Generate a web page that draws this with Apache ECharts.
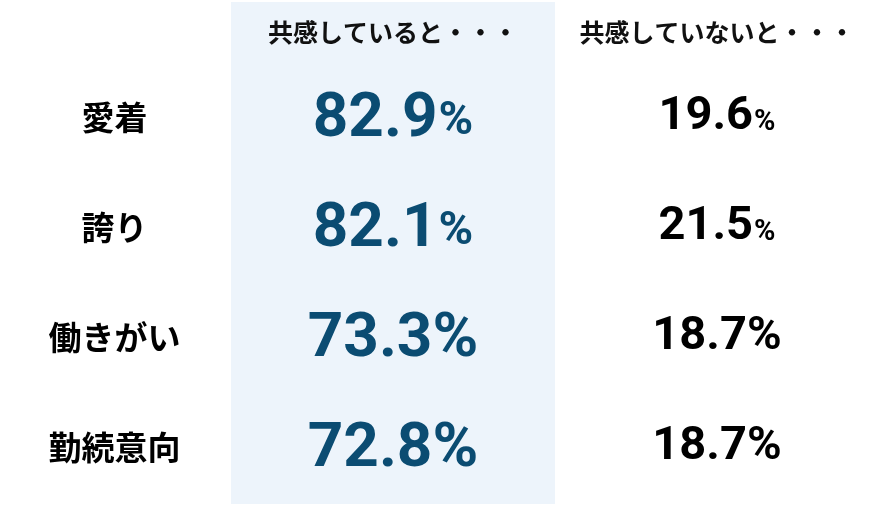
<!DOCTYPE html>
<html><head><meta charset="utf-8">
<script src="https://cdn.jsdelivr.net/npm/echarts@6/dist/echarts.min.js"></script>
<style>html,body{margin:0;padding:0;background:#fff}#c{width:883px;height:523px}</style>
</head><body><div id="c"></div>
<script>
const columns = ['共感していると・・・', '共感していないと・・・'];
const rows = ['愛着', '誇り', '働きがい', '勤続意向'];
const empathize = [82.9, 82.1, 73.3, 72.8];
const notEmpathize = [19.6, 21.5, 18.7, 18.7];

const chart = echarts.init(document.getElementById('c'), null, {renderer: 'canvas'});
const numFont = 'Roboto, "Liberation Sans", sans-serif';
const jpFont = '"Noto Sans CJK JP", "Noto Sans", sans-serif';

function makeSeries(name, values, col, color, big, small, smallPad, dy) {
  const base = {fontFamily: numFont, fontWeight: 'bold', color: color, verticalAlign: 'bottom', lineHeight: big};
  return {
    name: name, type: 'scatter', symbolSize: 1, xAxisIndex: 0, yAxisIndex: 0,
    itemStyle: {color: 'rgba(0,0,0,0)'}, silent: true,
    data: values.map((v, i) => [columns[col], rows[i], v]),
    label: {
      show: true, position: 'inside', opacity: 1, offset: [0, dy],
      formatter: p => '{n|' + p.value[2].toFixed(1) + '}{' + (p.dataIndex < 2 ? 's' : 'n') + '|%}',
      rich: {
        n: Object.assign({}, base, {fontSize: big}),
        s: Object.assign({}, base, {fontSize: small, padding: [0, 0, smallPad, 1]})
      }
    }
  };
}

chart.setOption({
  animation: false,
  backgroundColor: '#fff',
  grid: [
    {left: 231, right: 4, top: 62.5, bottom: 20.5, show: false},
    {left: 231, width: 324, top: 2, bottom: 19, show: true, backgroundColor: '#EDF4FB', borderWidth: 0}
  ],
  xAxis: [
    {type: 'category', gridIndex: 0, data: columns, position: 'top',
     axisLine: {show: false}, axisTick: {show: false}, splitLine: {show: false},
     axisLabel: {interval: 0, hideOverlap: false, fontFamily: jpFont, fontWeight: 'bold', fontSize: 25, color: '#111', margin: 17}},
    {type: 'value', gridIndex: 1, show: false}
  ],
  yAxis: [
    {type: 'category', gridIndex: 0, data: rows, inverse: true,
     axisLine: {show: false}, axisTick: {show: false}, splitLine: {show: false},
     axisLabel: {interval: 0, fontFamily: jpFont, fontWeight: 'bold', fontSize: 33, color: '#000', margin: 116.5, align: 'center'}},
    {type: 'value', gridIndex: 1, show: false}
  ],
  series: [
    makeSeries('共感している', empathize, 0, '#0B4C72', 62, 47, 6, 3),
    makeSeries('共感していない', notEmpathize, 1, '#000000', 47, 29, 4, 0)
  ]
});
</script></body></html>
